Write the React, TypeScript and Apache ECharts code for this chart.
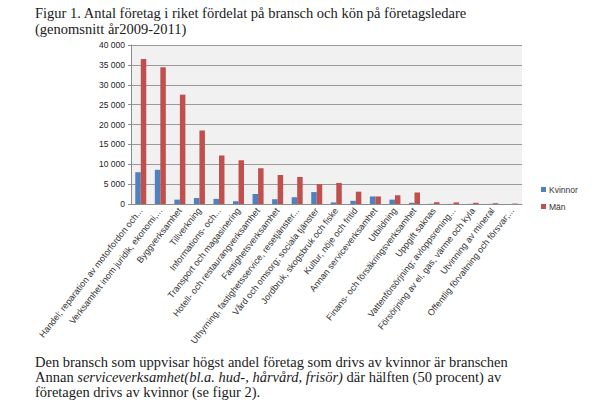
import React, { useEffect, useRef } from "react";
import * as echarts from "echarts";

const categories = [
  "Handel; reparation av motorfordon och...",
  "Verksamhet inom juridik, ekonomi,...",
  "Byggverksamhet",
  "Tillverkning",
  "Informations- och...",
  "Transport och magasinering",
  "Hotell- och restaurangverksamhet",
  "Fastighetsverksamhet",
  "Uthyrning, fastighetsservice, resetjänster...",
  "Vård och omsorg; sociala tjänster",
  "Jordbruk, skogsbruk och fiske",
  "Kultur, nöje och fritid",
  "Annan serviceverksamhet",
  "Utbildning",
  "Finans- och försäkringsverksamhet",
  "Uppgift saknas",
  "Vattenförsörjning; avloppsrening...",
  "Försörjning av el, gas, värme och kyla",
  "Utvinning av mineral",
  "Offentlig förvaltning och försvar;...",
];

const kvinnor = [8000, 8600, 1100, 1500, 1300, 700, 2500, 1200, 1700, 3000, 400, 800, 1900, 1100, 300, 50, 30, 30, 20, 20];
const man = [36500, 34400, 27500, 18500, 12200, 11000, 9000, 7300, 6800, 5000, 5300, 3100, 1900, 2200, 2900, 450, 400, 300, 200, 100];

const titleText = "Figur 1. Antal företag i riket fördelat på bransch och kön på företagsledare\n(genomsnitt år2009-2011)";

export default function App() {
  const ref = useRef<HTMLDivElement>(null);
  useEffect(() => {
    const chart = echarts.init(ref.current!, null, { renderer: "svg" });
    const serif = "Liberation Serif";
    const sans = "Liberation Sans";
    chart.setOption({
      animation: false,
      backgroundColor: "#ffffff",
      title: {
        text: titleText,
        left: 35,
        top: 5,
        padding: 0,
        textStyle: {
          fontFamily: serif,
          fontSize: 14.5,
          fontWeight: "normal",
          color: "#1a1a1a",
          lineHeight: 16,
        },
      },
      legend: {
        orient: "vertical",
        left: 536,
        top: 180,
        itemWidth: 5,
        itemHeight: 5,
        itemGap: 8,
        icon: "rect",
        textStyle: { fontFamily: sans, fontSize: 8.5, color: "#333", padding: [0, 0, 0, -2] },
        data: ["Kvinnor", "Män"],
      },
      grid: {
        left: 131,
        right: 82,
        top: 45,
        bottom: 214,
        show: true,
        backgroundColor: "#f1f1f1",
        borderWidth: 0,
      },
      xAxis: {
        type: "category",
        data: categories,
        axisLine: { show: true, lineStyle: { color: "#8c8c8c", width: 1 } },
        axisTick: { show: false },
        axisLabel: {
          interval: 0,
          rotate: 52,
          fontFamily: sans,
          fontSize: 9,
          color: "#333",
          margin: 5,
        },
      },
      yAxis: {
        type: "value",
        min: 0,
        max: 40000,
        interval: 5000,
        axisLine: { show: true, lineStyle: { color: "#8c8c8c", width: 1 } },
        axisTick: { show: true, length: 3, lineStyle: { color: "#8c8c8c" } },
        splitLine: { lineStyle: { color: "#9a9a9a", width: 1 } },
        axisLabel: {
          fontFamily: sans,
          fontSize: 8.5,
          color: "#222",
          margin: 6,
          formatter: (v: number) => (v === 0 ? "0" : `${v / 1000} 000`),
        },
      },
      series: [
        {
          name: "Kvinnor",
          type: "bar",
          data: kvinnor,
          barWidth: 5.5,
          barGap: "0%",
          itemStyle: { color: "#4f81bd" },
        },
        {
          name: "Män",
          type: "bar",
          data: man,
          barWidth: 5.5,
          barGap: "0%",
          itemStyle: { color: "#c0504d" },
        },
      ],
      graphic: [
        {
          type: "text",
          left: 35,
          top: 354,
          style: {
            text:
              "Den bransch som uppvisar högst andel företag som drivs av kvinnor är branschen\n" +
              "Annan {i|serviceverksamhet(bl.a. hud-, hårvård, frisör)} där hälften (50 procent) av\n" +
              "företagen drivs av kvinnor (se figur 2).",
            fontFamily: serif,
            fontSize: 14.5,
            fontWeight: "normal",
            lineHeight: 15,
            fill: "#1a1a1a",
            rich: {
              i: {
                fontFamily: serif,
                fontSize: 14.5,
                fontStyle: "italic",
                fontWeight: "normal",
                fill: "#1a1a1a",
                lineHeight: 15,
              },
            },
          },
        },
      ],
    });
    return () => chart.dispose();
  }, []);
  return (
    <div
      ref={ref}
      style={{ position: "fixed", left: 0, top: 0, width: 604, height: 418 }}
    />
  );
}
